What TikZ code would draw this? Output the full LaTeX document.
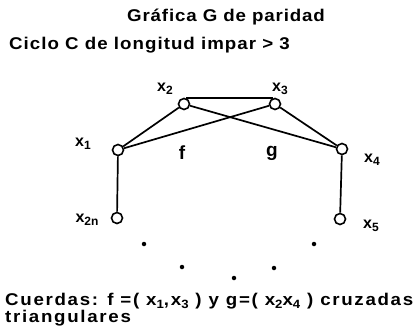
\documentclass[tikz,border=0pt]{standalone}
\usepackage{fontspec}
\setmainfont{Liberation Sans}
\newcommand\sbs[1]{\raisebox{-0.3ex}{\fontsize{12}{12}\selectfont #1}}
\newcommand\ssb[1]{\raisebox{-0.3ex}{\fontsize{12}{12}\selectfont #1}}
\begin{document}
\begin{tikzpicture}[x=1pt,y=-1pt,
  vtx/.style={circle,draw,line width=1.6pt,fill=white,minimum size=11pt,inner sep=0pt},
  edge/.style={line width=1.7pt},
  lbl/.style={font=\fontsize{16}{18}\selectfont\bfseries,inner sep=0pt},
  chord/.style={font=\fontsize{19}{21}\selectfont\bfseries,inner sep=0pt},
  txt/.style={font=\fontsize{17}{19}\selectfont\bfseries\addfontfeature{FakeStretch=1.1,LetterSpace=10},inner sep=0pt,anchor=west},
  dot/.style={circle,fill,minimum size=4.5pt,inner sep=0pt}]
\useasboundingbox (0,0) rectangle (418,333);
\node[font=\fontsize{17}{19}\selectfont\bfseries\addfontfeature{FakeStretch=1.1,LetterSpace=5},inner sep=0pt] (title) at (226,17) {Gráfica G de paridad};
\node[txt,font=\fontsize{17}{19}\selectfont\bfseries\addfontfeature{FakeStretch=1.1,LetterSpace=6}] (sub) at (9,45) {Ciclo C de longitud impar > 3};
% vertices
\node[vtx] (x1) at (118,150) {};
\node[vtx] (x2) at (184,104) {};
\node[vtx] (x3) at (275,104) {};
\node[vtx] (x4) at (342,149) {};
\node[vtx] (x2n) at (117,218) {};
\node[vtx] (x5) at (340,219) {};
% edges
\draw[edge] (x2.70) -- (x3.110);
\draw[edge] (x1) -- (x2);
\draw[edge] (x3) -- (x4);
\draw[edge] (x1) -- (x3);
\draw[edge] (x2) -- (x4);
\draw[edge] (x1) -- (x2n);
\draw[edge] (x4) -- (x5);
% labels
\node[lbl] (l1) at (83,144) {x\sbs{1}};
\node[lbl] (l2) at (165,89) {x\sbs{2}};
\node[lbl] (l3) at (280,89) {x\sbs{3}};
\node[lbl] (l4) at (372,160) {x\sbs{4}};
\node[lbl] (l2n) at (87,220) {x\sbs{2n}};
\node[lbl] (l5) at (371,226) {x\sbs{5}};
\node[chord] (f) at (182,153) {f};
\node[chord] (g) at (272,153) {g};
% dots
\node[dot] (d1) at (144,244) {};
\node[dot] (d2) at (182,267) {};
\node[dot] (d3) at (234,278) {};
\node[dot] (d4) at (274,268) {};
\node[dot] (d5) at (314,244) {};
% bottom text
\node[txt] (c1) at (5,301) {Cuerdas: f =( x\ssb{1},x\ssb{3} ) y g=( x\ssb{2}x\ssb{4} ) cruzadas};
\node[txt] (c2) at (5,318) {triangulares};
\end{tikzpicture}
\end{document}
